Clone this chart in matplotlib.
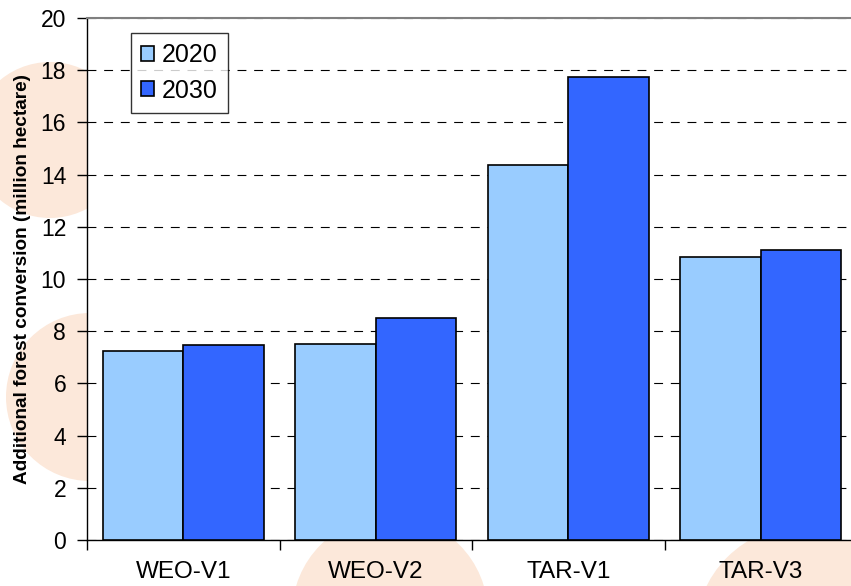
import numpy as np
import matplotlib.pyplot as plt
from matplotlib.patches import Circle

plt.rcParams['font.family'] = ['Liberation Sans', 'DejaVu Sans']

# datos del gráfico
escenarios = ['WEO-V1', 'WEO-V2', 'TAR-V1', 'TAR-V3']
anios = ['2020', '2030']
conv_2020 = [7.23, 7.51, 14.37, 10.85]
conv_2030 = [7.46, 8.50, 17.75, 11.10]
colores = ['#99ccff', '#3366ff']

W, H = 851, 586
fig = plt.figure(figsize=(W / 100, H / 100), dpi=100)

# círculos de fondo (marca de agua), en píxeles desde arriba a la izquierda
for cx, cy, r in [(50, 140, 78), (90, 397, 84), (390, 614, 98), (805, 635, 110)]:
    c = Circle((cx / 100, (H - cy) / 100), r / 100, transform=fig.dpi_scale_trans,
               facecolor='#fce8da', edgecolor='none', zorder=-1)
    fig.patches.append(c)

ax = fig.add_axes([87 / W, (H - 540) / H, 770 / W, 522 / H])
ax.set_zorder(1)
ax.set_facecolor('white')

x = np.arange(len(escenarios))
ancho = 0.417
ax.bar(x - ancho / 2, conv_2020, ancho, color=colores[0], edgecolor='black',
       linewidth=1.2, label=anios[0], zorder=3)
ax.bar(x + ancho / 2, conv_2030, ancho, color=colores[1], edgecolor='black',
       linewidth=1.2, label=anios[1], zorder=3)

ax.set_xlim(-0.5, 3.5)
ax.set_ylim(0, 20)
ax.set_yticks(range(0, 21, 2))
ax.yaxis.grid(True, linestyle=(0, (8, 7)), color='black', linewidth=0.8, zorder=0)
ax.set_axisbelow(True)

# marcas del eje x entre categorías
ax.set_xticks(np.arange(-0.5, 4, 1))
ax.set_xticklabels([])
ax.set_xticks(x, minor=True)
ax.set_xticklabels(escenarios, minor=True, fontsize=17.5)
ax.tick_params(axis='x', which='minor', length=0, pad=15)
ax.tick_params(axis='x', which='major', length=7, width=1, direction='out')
ax.tick_params(axis='y', length=7, width=1, labelsize=16.5, pad=8)

ax.spines['right'].set_visible(False)
ax.spines['top'].set_color('#808080')
ax.spines['top'].set_linewidth(1.5)
ax.spines['left'].set_linewidth(1)
ax.spines['bottom'].set_linewidth(1)

ax.set_ylabel('Additional forest conversion (million hectare)', fontsize=13.7,
              fontweight='bold', labelpad=7)

leg = ax.legend(loc='upper left', bbox_to_anchor=(0.0568, 0.9707), borderaxespad=0,
                fontsize=18, frameon=True, fancybox=False, handlelength=0.55,
                handleheight=0.55, handletextpad=0.3, labelspacing=0.45,
                borderpad=0.4)
leg.get_frame().set_edgecolor('black')
leg.get_frame().set_linewidth(1)
for h in leg.legend_handles:
    h.set_linewidth(1.2)

fig.savefig('out.png', dpi=100)
